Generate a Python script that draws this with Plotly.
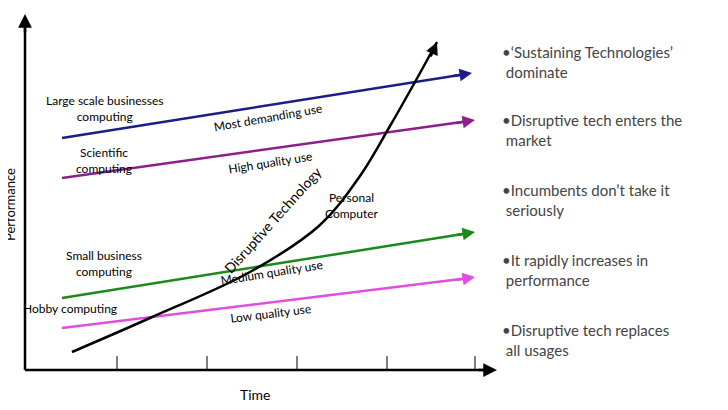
import plotly.graph_objects as go

# Sustaining technology lines (x0, y0, x1, y1) in diagram units (pixel-like, y downward)
line_names = ["Most demanding use", "High quality use", "Medium quality use", "Low quality use"]
line_x0 = [62, 62, 62, 62]
line_y0 = [138, 178, 298, 328]
line_x1 = [472, 475, 475, 475]
line_y1 = [73, 120, 232, 277]
line_colors = ["#1c1c8a", "#8c1f8c", "#1b8a1b", "#e04ee0"]
label_x = [268, 270, 271, 270]
label_y = [117, 162, 272, 313]
label_angle = [-10, -9, -9, -7]

# Disruptive technology curve
curve_x = [72, 150, 250, 320, 360, 390, 415, 437]
curve_y = [352, 318, 272, 225, 176, 126, 82, 42]

# Left-side labels
seg_labels = ["Large scale businesses<br>computing", "Scientific<br>computing",
              "Small business<br>computing", "Hobby computing"]
seg_x = [104, 104, 104, 70]
seg_y = [108, 160, 263, 308]

bullets = ["•‘Sustaining Technologies’<br> dominate", "•Disruptive tech enters the<br> market",
           "•Incumbents don’t take it<br> seriously", "•It rapidly increases in<br> performance",
           "•Disruptive tech replaces<br> all usages"]
bullet_y = [62, 130, 200, 270, 340]

tick_x = [117, 207, 297, 387, 475]

fig = go.Figure()
F = "Lato, Open Sans, sans-serif"

for i in range(4):
    fig.add_trace(go.Scatter(x=[line_x0[i], line_x1[i] - 6], y=[line_y0[i], line_y1[i] + 1],
                             mode="lines", line=dict(color=line_colors[i], width=2.5), showlegend=False))
    fig.add_annotation(x=line_x1[i], y=line_y1[i], ax=line_x1[i] - 20, ay=line_y1[i] + 3.2,
                       xref="x", yref="y", axref="x", ayref="y", text="", showarrow=True,
                       arrowhead=2, arrowsize=1, arrowwidth=2.5, arrowcolor=line_colors[i])
    fig.add_annotation(x=label_x[i], y=label_y[i], text=line_names[i], showarrow=False,
                       textangle=label_angle[i], font=dict(family=F, size=12, color="black"))

fig.add_trace(go.Scatter(x=curve_x, y=curve_y, mode="lines", line=dict(color="black", width=2.5, shape="spline"),
                         showlegend=False))
fig.add_annotation(x=437, y=42, ax=430, ay=58, xref="x", yref="y", axref="x", ayref="y", text="",
                   showarrow=True, arrowhead=2, arrowsize=1, arrowwidth=2.5, arrowcolor="black")
fig.add_annotation(x=272, y=220, text="Disruptive Technology", showarrow=False, textangle=-48,
                   font=dict(family=F, size=14, color="black"))
fig.add_annotation(x=352, y=205, text="Personal<br>Computer", showarrow=False,
                   font=dict(family=F, size=12, color="black"))

for t, x, y in zip(seg_labels, seg_x, seg_y):
    fig.add_annotation(x=x, y=y, text=t, showarrow=False, font=dict(family=F, size=12, color="black"))

for t, y in zip(bullets, bullet_y):
    fig.add_annotation(x=500, y=y, text=t, showarrow=False, xanchor="left", align="left",
                       font=dict(family=F, size=15, color="#444444"))

# axes
fig.add_trace(go.Scatter(x=[25, 25], y=[370, 22], mode="lines", line=dict(color="black", width=2.5), showlegend=False))
fig.add_trace(go.Scatter(x=[25, 488], y=[370, 370], mode="lines", line=dict(color="black", width=2.5), showlegend=False))
fig.add_annotation(x=25, y=14, ax=25, ay=34, xref="x", yref="y", axref="x", ayref="y", text="", showarrow=True,
                   arrowhead=2, arrowsize=1.1, arrowwidth=2.5, arrowcolor="black")
fig.add_annotation(x=497, y=370, ax=477, ay=370, xref="x", yref="y", axref="x", ayref="y", text="", showarrow=True,
                   arrowhead=2, arrowsize=1.1, arrowwidth=2.5, arrowcolor="black")
for x in tick_x:
    fig.add_trace(go.Scatter(x=[x, x], y=[356, 370], mode="lines", line=dict(color="black", width=1), showlegend=False))
fig.add_annotation(x=10, y=205, text="Performance", textangle=-90, showarrow=False,
                   font=dict(family=F, size=13, color="black"))
fig.add_annotation(x=255, y=394, text="Time", showarrow=False, font=dict(family=F, size=14, color="black"))

fig.update_layout(width=728, height=410, margin=dict(l=0, r=0, t=0, b=0),
                  paper_bgcolor="white", plot_bgcolor="white",
                  xaxis=dict(range=[8, 736], visible=False, fixedrange=True),
                  yaxis=dict(range=[418, 8], visible=False, fixedrange=True))
fig.write_html("out.html")
